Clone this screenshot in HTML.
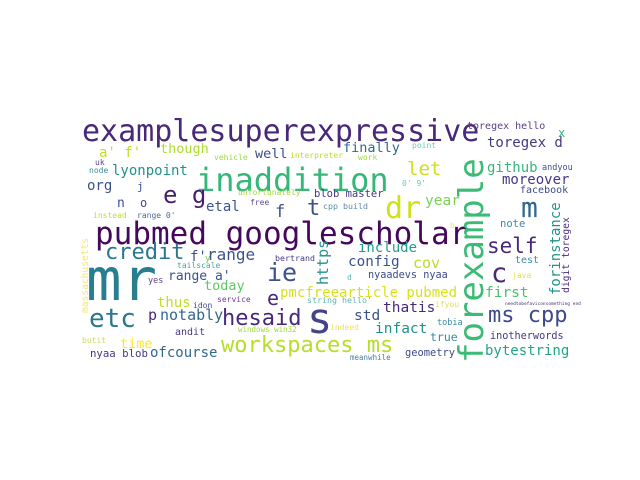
<!DOCTYPE html>
<html><head><meta charset="utf-8"><style>
html,body{margin:0;padding:0;background:#fff;}
svg{display:block;}
text{font-family:"DejaVu Sans Mono","Liberation Mono",monospace;}
</style></head>
<body>
<svg id="cloud" width="640" height="480" viewBox="0 0 640 480" xmlns="http://www.w3.org/2000/svg">
<rect width="640" height="480" fill="#ffffff"/>
</svg>
<script>
// word, font size, color, x, baseline y, rotation
const words = ["examplesuperexpressive","inaddition","pubmed googlescholar","mr","forexample","s","dr","m","c","e g","let","ie","e","etc","credit","self","hesaid","workspaces ms","ms cpp","t","f",
"a' f'","though","well","interpreter","vehicle","uk","node","lyonpoint","org","j","n","o","etal","unfortunately","free","blob master","instead","range 0'",
"toregex hello","x","finally","point","work","toregex d","github","andyou","0' 9'","moreover","facebook","cpp build","year","note","b","forinstance","digit toregex",
"massachusetts","f'","y","range","bertrand","tailscale","range a'","yes","today","pmcfreearticle pubmed","thus","idon","service","string hello'","p","notably","andit","windows win32","butit","time","nyaa blob","ofcourse",
"include","https","config","cov","d","nyaadevs nyaa","test","java","first","needtobefaviconsomething end","thatis","ifyou","std","indeed","tobia","infact","inotherwords","true","bytestring","geometry","meanwhile"];
const sizes = [30,32,31,59,34,42,30,28,27,24,19,25,20,26,22,21,22,22,22,22,17,
14,13.5,13.5,8,8,8,8,14,14,11,13,12,14,8,8,10.5,8,8,
10,12,13.5,8,8,14,14,8.5,8,14,10,8.3,14.5,10.5,8,14,9.7,
9.6,14,9,16,8.3,8,13,8.5,13.5,14,14,8,8,8.3,15,15,10,7.5,8,13.5,10.7,14,
14,15,14.3,15,8,10.2,10,8,14.5,4.5,14.5,8,14.5,8,8.5,14.5,10.2,11.5,14,10.4,7.5];
const colors = ["#482878","#35b779","#46085c","#287d8e","#3bbb75","#414487","#d0e11c","#31688e","#482878","#481f70","#d0e11c","#3b528b","#482878","#2a788e","#2a788e","#482878","#482878","#b5de2b","#3e4a89","#3b528b","#3b528b",
"#c2df23","#addc30","#3e4c8a","#b8de29","#9fda3a","#5c3f8a","#3b8ba0","#21918c","#3b528b","#3e4a89","#3b528b","#3e4a89","#3b528b","#9fda3a","#5c4d8f","#443983","#c8e020","#4f6a8d",
"#5a3f88","#35b779","#31688e","#6ccdb0","#9fda3a","#443983","#35b779","#3b528b","#6ccdb0","#443983","#3e4a89","#5a8fa8","#7ad151","#3b8ba0","#f2e35a","#21918c","#482878",
"#f5e66e","#3b528b","#6ccd5a","#3b528b","#443983","#4aa4a8","#3b528b","#5c3f8a","#5ec962","#d8e219","#bddf26","#3e4a89","#6a3d8a","#5ab5b0","#482878","#31688e","#443983","#9fda3a","#c2df5a","#fde725","#443983","#31688e",
"#1f9e89","#21918c","#3b528b","#b8de29","#5ab5b0","#3e4a89","#3b8ba0","#e2e05a","#4ac16d","#482878","#482878","#e2e05a","#3b528b","#f2e35a","#3b8ba0","#21918c","#443983","#3b8ba0","#21a585","#3e4a89","#4a80a0"];
const xs = [82,196,95,86,483,307,385,521,491,163,407,267,267,89,105,487,222,221,488,307,275,
99,160,255,290,214,95,89,112,87,137,117,140,206,238,250,314,93,137,
467,558,343,412,358,487,487,542,402,502,520,323,425,500,450,560,569,
88,190,205,207,275,177,168,148,204,280,157,193,217,307,148,160,175,238,82,120,90,150,
358,328,348,413,347,368,515,512,485,505,383,435,354,330,437,375,490,430,485,405,350];
const ys = [141,191,244,300,363,333,218,217,282,203,175,281,305,327,259,253,325,352,322,215,217,
157,153,158,158,160,165,173,175,190,190,207,207,211,195,205,197,218,218,
129,137,152,148,160,147,172,170,186,184,193,209,205,227,228,295,293,
313,261,261,260,261,268,280,283,290,297,307,308,302,303,320,320,335,332,343,348,357,357,
252,285,266,268,280,278,263,278,297,305,312,307,320,330,325,333,339,341,355,356,360];
const rots = words.map(w => ["forexample","forinstance","digit toregex","massachusetts","https"].includes(w) ? -90 : 0);

const svg = document.getElementById('cloud');
words.forEach((w, i) => {
  const t = document.createElementNS('http://www.w3.org/2000/svg', 'text');
  t.setAttribute('transform', `translate(${xs[i]},${ys[i]}) rotate(${rots[i]})`);
  t.setAttribute('font-size', sizes[i]);
  t.setAttribute('fill', colors[i]);
  t.setAttribute('xml:space', 'preserve');
  t.textContent = w;
  
  
  svg.appendChild(t);
});
</script>
</body></html>
